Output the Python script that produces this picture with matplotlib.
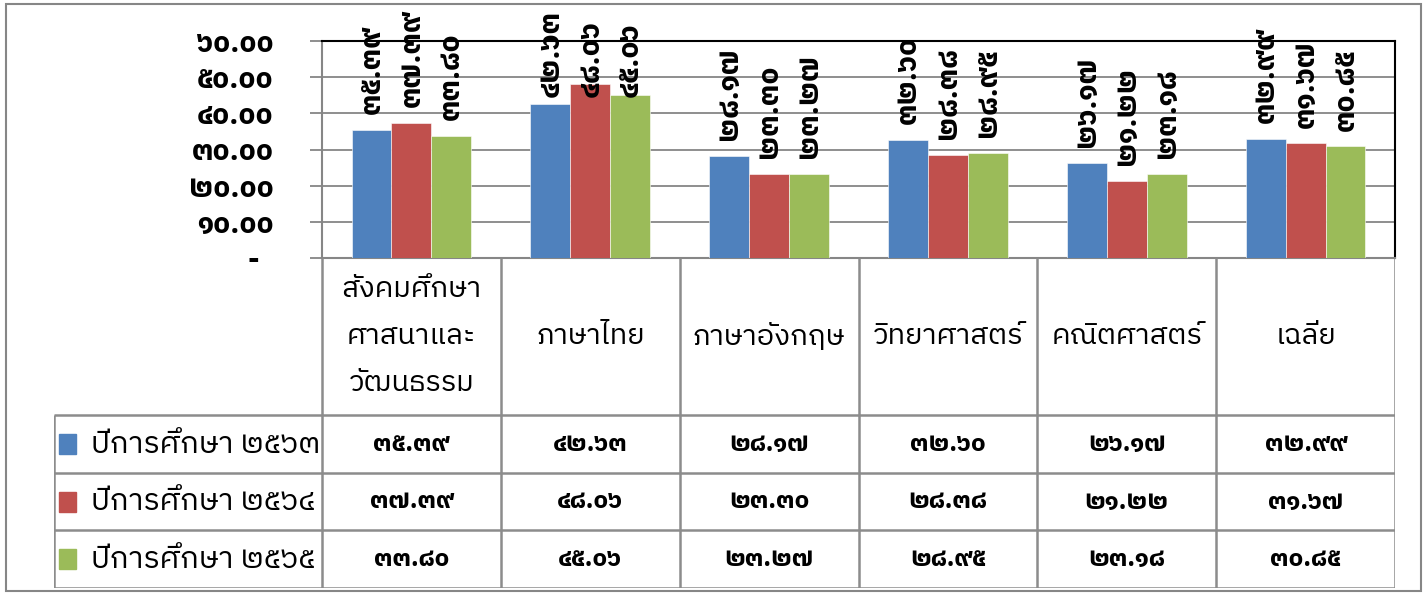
import matplotlib
matplotlib.use("Agg")
import matplotlib.pyplot as plt
from matplotlib import font_manager as fm
from matplotlib.patches import Rectangle
from fontTools.ttLib import TTFont

categories = ["สังคมศึกษา\nศาสนาและ\nวัฒนธรรม", "ภาษาไทย", "ภาษาอังกฤษ",
              "วิทยาศาสตร์", "คณิตศาสตร์", "เฉลี่ย"]
series_names = ["ปีการศึกษา ๒๕๖๓", "ปีการศึกษา ๒๕๖๔", "ปีการศึกษา ๒๕๖๕"]
y2563 = [35.39, 42.63, 28.17, 32.60, 26.17, 32.99]
y2564 = [37.39, 48.06, 23.30, 28.38, 21.22, 31.67]
y2565 = [33.80, 45.06, 23.27, 28.95, 23.18, 30.85]
colors = ["#4F81BD", "#C0504D", "#9BBB59"]
yticks = [0, 10, 20, 30, 40, 50, 60]

THAI_DIGITS = str.maketrans("0123456789", "๐๑๒๓๔๕๖๗๘๙")


def thai_num(v):
    return f"{v:.2f}".translate(THAI_DIGITS)


def find_thai_font():
    found = []
    for f in fm.fontManager.ttflist:
        try:
            tt = TTFont(f.fname, fontNumber=0, lazy=True)
            cmap = tt.getBestCmap()
        except Exception:
            continue
        if cmap and 0x0E01 in cmap and 0x0E51 in cmap:
            found.append(f.name)
    if not found:
        return None
    found.sort(key=lambda n: (("Looped" in n), ("Thai" not in n), n))
    return found[0]


thai = find_thai_font()
fams = [thai, "DejaVu Sans"] if thai else ["DejaVu Sans"]
plt.rcParams["font.family"] = fams

W, H = 1427, 597
fig = plt.figure(figsize=(W / 100, H / 100), dpi=100)

# plot area in pixels
px_left, px_right, px_top, px_bottom = 322, 1395, 41, 258
ax = fig.add_axes([px_left / W, 1 - px_bottom / H,
                   (px_right - px_left) / W, (px_bottom - px_top) / H])

n = len(categories)
bw = 0.223
xs = list(range(n))
series = [y2563, y2564, y2565]
grid_c = "#868686"

for k, vals in enumerate(series):
    pos = [x + (k - 1) * bw for x in xs]
    ax.bar(pos, vals, width=bw, color=colors[k], edgecolor="white",
           linewidth=0.4, zorder=3)
    for p, v in zip(pos, vals):
        ax.text(p, min(v + 4.4, 44.5), thai_num(v), rotation=90,
                ha="center", va="bottom", fontsize=21, fontweight="bold",
                zorder=5, clip_on=False)

ax.set_xlim(-0.5, n - 0.5)
ax.set_ylim(0, 60)
ax.set_xticks([])
ax.set_yticks(yticks)
ax.set_yticklabels(["-  " if t == 0 else thai_num(t) for t in yticks],
                   fontsize=21, fontweight="bold")
ax.tick_params(axis="y", length=9, width=1.3, color=grid_c, pad=26)
ax.yaxis.grid(True, color=grid_c, linewidth=1.3, zorder=0)
ax.set_axisbelow(True)
for s in ["left", "bottom"]:
    ax.spines[s].set_color(grid_c)
    ax.spines[s].set_linewidth(1.5)
for s in ["top", "right"]:
    ax.spines[s].set_color("black")
    ax.spines[s].set_linewidth(1.5)

# data table below the plot
leg_w = 1.5
tab_top, tab_bottom = 258, 588
tax = fig.add_axes([(px_left - leg_w * (px_right - px_left) / n) / W, 1 - tab_bottom / H,
                    (px_right - px_left) / W * (n + leg_w) / n, (tab_bottom - tab_top) / H])
tax.set_xlim(-0.5 - leg_w, n - 0.5)
tax.set_ylim(tab_bottom - tab_top, 0)
tax.axis("off")

head_h = 157
row_h = (tab_bottom - tab_top - head_h) / 3
line_c = "#8C8C8C"
lw = 1.8

# column lines
for i in range(n + 1):
    tax.plot([i - 0.5, i - 0.5], [0, tab_bottom - tab_top], color=line_c, lw=lw,
             solid_capstyle="butt")
tax.plot([-0.5 - leg_w, -0.5 - leg_w], [head_h, tab_bottom - tab_top], color=line_c,
         lw=lw, solid_capstyle="butt")
# row lines
for r in range(4):
    yy = head_h + r * row_h
    tax.plot([-0.5 - leg_w, n - 0.5], [yy, yy], color=line_c, lw=lw,
             solid_capstyle="butt")

for i, c in enumerate(categories):
    tax.text(i, head_h / 2, c, ha="center", va="center", fontsize=21,
             linespacing=1.95)

for k, (name, vals) in enumerate(zip(series_names, series)):
    yc = head_h + (k + 0.5) * row_h
    tax.add_patch(Rectangle((-0.5 - leg_w + 0.03, yc - 10), 0.095, 20,
                            color=colors[k]))
    tax.text(-0.5 - leg_w + 0.21, yc, name, ha="left", va="center", fontsize=22)
    for i, v in enumerate(vals):
        tax.text(i, yc, thai_num(v), ha="center", va="center", fontsize=18,
                 fontweight="bold")

# outer chart frame
fig.patches.append(Rectangle((6 / W, 1 - 591 / H), (1421 - 6) / W, (591 - 4) / H,
                             transform=fig.transFigure, fill=False,
                             edgecolor=grid_c, linewidth=1.5))

fig.savefig("out.png", dpi=100)
